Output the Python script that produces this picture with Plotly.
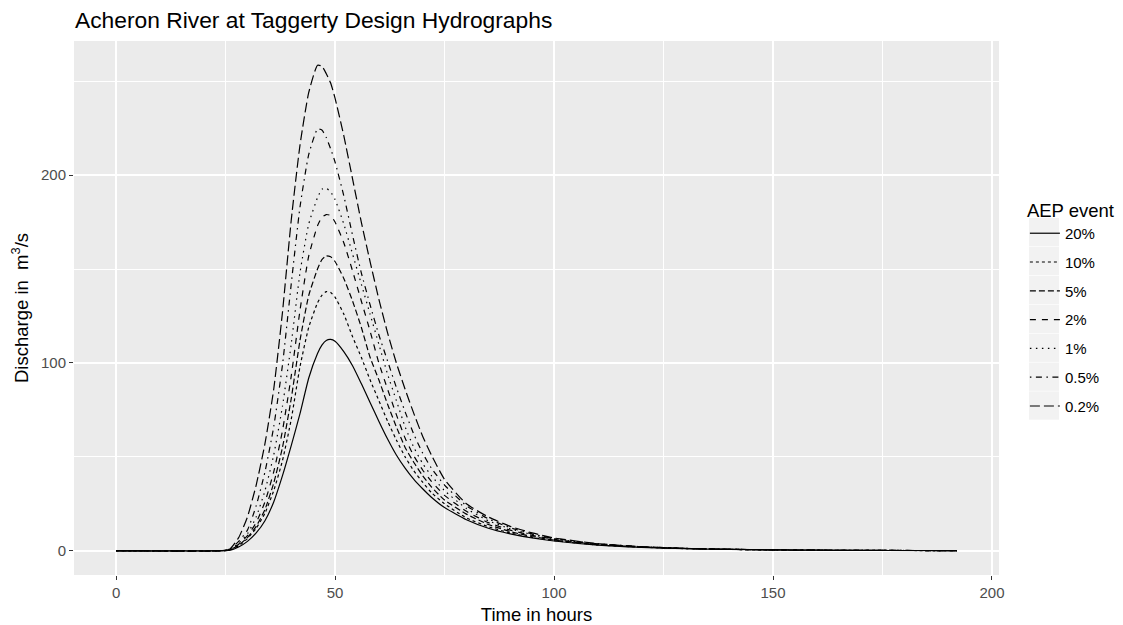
import plotly.graph_objects as go

# Time axis (hours)
hours = [0, 24, 26, 28, 30, 32, 34, 36, 38, 40, 42, 44, 46, 47, 48, 49, 50, 52, 54, 56,
         58, 60, 62, 64, 66, 68, 70, 72, 75, 80, 85, 90, 95, 100, 110, 120, 130, 140,
         150, 160, 175, 192]

# Discharge (m3/s) per AEP event
q_20 = [0, 0, 0.3, 2, 5, 9.5, 16, 26, 40, 56, 73, 92, 105, 109.5, 112, 112.5, 111.5, 106,
        98.5, 89, 79, 69, 59.5, 51, 44, 38, 33, 28.5, 23, 16.5, 12, 9, 6.8, 5.2, 3, 1.8,
        1.1, 0.7, 0.45, 0.3, 0.15, 0.1]
q_10 = [0, 0, 0.4, 2.5, 6.5, 12, 20, 32, 48, 70, 98, 119, 132, 136, 138, 137.5, 135, 126,
        114, 103, 91, 80, 69, 59, 50, 42.5, 36.5, 31, 25, 17.5, 12.8, 9.5, 7.1, 5.4, 3.1,
        1.9, 1.15, 0.72, 0.46, 0.3, 0.16, 0.1]
q_5 = [0, 0, 0.5, 3, 7, 13, 22, 36, 55, 81, 112, 136, 150, 155, 157, 156.5, 154, 145,
       133, 119, 103, 91, 78, 66, 55, 47, 40, 34, 27, 19.5, 14, 10.2, 7.6, 5.7, 3.3, 2,
       1.2, 0.75, 0.47, 0.3, 0.17, 0.1]
q_2 = [0, 0, 0.6, 3.5, 8, 15, 26, 42, 64, 93, 128, 157, 173, 177.5, 179, 178.5, 175, 164,
       149, 133, 117, 100, 86, 72.5, 60, 50.5, 43, 37, 29.5, 21, 15, 11, 8.2, 6.1, 3.4, 2,
       1.2, 0.76, 0.48, 0.3, 0.17, 0.1]
q_1 = [0, 0, 0.7, 4, 9, 18, 32, 51, 77, 110, 148, 174, 188, 192.5, 193, 191, 187, 174,
       158, 142, 126, 110, 94, 80, 66, 55, 46.5, 40, 32, 22.5, 16, 11.7, 8.6, 6.3, 3.5,
       2.1, 1.25, 0.78, 0.49, 0.3, 0.18, 0.1]
q_05 = [0, 0, 0.8, 5, 11, 24, 42, 66, 99, 142, 183, 211, 224.5, 224, 220, 214, 207, 189,
        168, 148, 131, 115, 101, 87, 74, 62, 52, 44, 35, 24, 17, 12.3, 9, 6.5, 3.7, 2.15,
        1.3, 0.8, 0.5, 0.31, 0.19, 0.1]
q_02 = [0, 0, 1, 7, 18, 35, 57, 86, 127, 176, 216, 244, 258.5, 258, 254, 249, 241, 221,
        198, 175, 154, 134, 116, 100, 86, 73, 61, 51, 38, 25, 18, 13, 9.5, 6.8, 3.8, 2.2,
        1.3, 0.8, 0.5, 0.32, 0.2, 0.1]

events = ["20%", "10%", "5%", "2%", "1%", "0.5%", "0.2%"]
series = [q_20, q_10, q_5, q_2, q_1, q_05, q_02]
dashes = ["solid", "3px,3px", "6px,3px", "6px,6px", "1.5px,4.5px",
          "1.5px,4.5px,6px,4.5px", "10px,4px"]

FONT = "Liberation Sans, Arial, sans-serif"

fig = go.Figure()
for name, q, d in zip(events, series, dashes):
    fig.add_trace(go.Scatter(
        x=hours, y=q, name=name, mode="lines", legendgroup=name,
        line=dict(color="black", width=1.2, dash=d, shape="spline", smoothing=0.5),
    ))

axis_common = dict(
    showgrid=True, gridcolor="white", gridwidth=1.6, zeroline=False,
    ticks="outside", ticklen=4, tickcolor="#333333", tickwidth=1.3,
    tickfont=dict(family=FONT, size=15, color="#4D4D4D"),
    showline=False, automargin=False,
)

fig.update_xaxes(
    range=[-9.6, 201.6], tickmode="linear", tick0=0, dtick=50,
    minor=dict(dtick=25, showgrid=True, gridcolor="white", gridwidth=0.8, ticks=""),
    title=dict(text="Time in hours", font=dict(family=FONT, size=18.5, color="black"), standoff=9),
    **axis_common,
)
fig.update_yaxes(
    range=[-12.9, 271.4], tickmode="linear", tick0=0, dtick=100,
    minor=dict(dtick=50, showgrid=True, gridcolor="white", gridwidth=0.8, ticks=""),
    title=dict(text="Discharge in  m<sup>3</sup>/s", font=dict(family=FONT, size=18.5, color="black"), standoff=8),
    **axis_common,
)

# figure is placed with an 8px page margin, so size/margins are compensated
W, H = 1115, 617
L, T, R, B = 66, 33, 124, 50
plot_w = W - L - R
plot_h = H - T - B

# light grey legend key backgrounds (ggplot style)
item_top0 = 218 - 8  # first key top in figure px
key_h = 28.9
for i in range(len(events)):
    y0 = item_top0 + i * key_h
    fig.add_shape(
        type="rect", xref="paper", yref="paper",
        x0=(1029 - 8 - L) / plot_w, x1=(1059 - 8 - L) / plot_w,
        y0=(H - B - (y0 + key_h - 0.6)) / plot_h, y1=(H - B - y0) / plot_h,
        fillcolor="#F2F2F2", line=dict(width=0), layer="below",
    )

fig.update_layout(
    width=W, height=H,
    margin=dict(l=L, r=R, t=T, b=B, autoexpand=False),
    paper_bgcolor="white", plot_bgcolor="#EBEBEB",
    title=dict(text="Acheron River at Taggerty Design Hydrographs",
               font=dict(family=FONT, size=22.8, color="black"),
               x=67 / W, xanchor="left", y=1 - 12 / H, yanchor="middle"),
    legend=dict(
        title=dict(text="AEP event", font=dict(family=FONT, size=18.5, color="black")),
        font=dict(family=FONT, size=15, color="black"),
        x=1.028, xanchor="left", y=0.7155, yanchor="top",
        tracegroupgap=6.3, bgcolor="rgba(0,0,0,0)",
    ),
    showlegend=True,
)

fig.write_html("out.html")
